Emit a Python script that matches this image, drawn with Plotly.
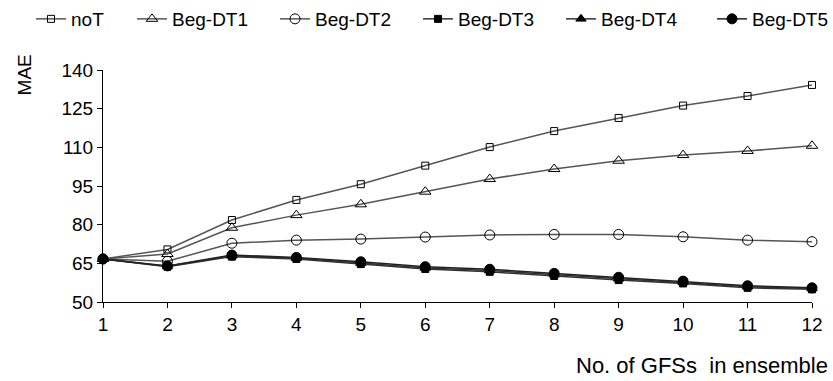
import plotly.graph_objects as go

x = list(range(1, 13))
noT   = [66.7, 70.4, 81.8, 89.6, 95.7, 102.9, 110.1, 116.3, 121.4, 126.2, 129.9, 134.2]
dt1   = [66.7, 68.6, 78.8, 83.7, 87.9, 92.8, 97.7, 101.6, 104.8, 107.0, 108.6, 110.6]
dt2   = [66.7, 65.8, 72.8, 74.0, 74.4, 75.2, 76.0, 76.2, 76.2, 75.3, 74.0, 73.4]
dt3   = [66.7, 63.7, 67.6, 66.7, 64.7, 62.8, 61.7, 60.1, 58.5, 57.2, 55.5, 54.9]
dt4   = [66.7, 63.9, 67.9, 67.0, 65.1, 63.2, 62.2, 60.6, 59.0, 57.6, 55.9, 55.2]
dt5   = [66.7, 64.0, 68.2, 67.3, 65.6, 63.7, 62.7, 61.1, 59.6, 58.1, 56.3, 55.5]
names = ["noT", "Beg-DT1", "Beg-DT2", "Beg-DT3", "Beg-DT4", "Beg-DT5"]
series = [noT, dt1, dt2, dt3, dt4, dt5]
symbols = ["square-open", "triangle-up-open", "circle-open", "square", "triangle-up", "circle"]
sizes = [7, 10, 10, 7, 9, 10]
linecolors = ["#555555", "#555555", "#555555", "#333333", "#333333", "#222222"]
legends = ["legend", "legend2", "legend2", "legend2", "legend2", "legend3"]

fig = go.Figure()
for n, s, sym, sz, lc, lg in zip(names, series, symbols, sizes, linecolors, legends):
    fig.add_trace(go.Scatter(
        x=x, y=s, name=n, mode="lines+markers", legend=lg,
        line=dict(color=lc, width=1.5),
        marker=dict(symbol=sym, size=sz, color="black",
                    line=dict(color="black", width=1)),
        cliponaxis=False,
    ))

fig.update_layout(
    width=833, height=381,
    margin=dict(l=103, r=21, t=70, b=79, autoexpand=False),
    plot_bgcolor="white", paper_bgcolor="white",
    font=dict(family="Liberation Sans, Arial, sans-serif", size=19, color="black"),
    showlegend=True,
    legend=dict(orientation="h", xref="container", yref="container",
                x=31 / 833, y=1.0, xanchor="left", yanchor="top",
                font=dict(size=19), bgcolor="rgba(0,0,0,0)"),
    legend2=dict(orientation="h", xref="container", yref="container",
                 x=132 / 833, y=1.0, xanchor="left", yanchor="top",
                 font=dict(size=19), entrywidth=98, entrywidthmode="pixels",
                 bgcolor="rgba(0,0,0,0)"),
    legend3=dict(orientation="h", xref="container", yref="container",
                 x=712 / 833, y=1.0, xanchor="left", yanchor="top",
                 font=dict(size=19), bgcolor="rgba(0,0,0,0)"),
    xaxis=dict(range=[1, 12], tickmode="array", tickvals=x,
               showline=True, linecolor="black", linewidth=1,
               ticks="outside", ticklen=5, tickcolor="black",
               showgrid=False, zeroline=False, tickfont=dict(size=19)),
    yaxis=dict(range=[50, 140], tickmode="array",
               tickvals=[50, 65, 80, 95, 110, 125, 140],
               showline=True, linecolor="black", linewidth=1,
               ticks="outside", ticklen=5, tickcolor="black",
               showgrid=False, zeroline=False, tickfont=dict(size=19)),
    annotations=[
        dict(text="MAE", xref="paper", yref="paper", x=-0.111, y=0.978,
             xanchor="center", yanchor="middle", textangle=-90, showarrow=False,
             font=dict(size=19)),
        dict(text="No. of GFSs&nbsp; in ensemble", xref="paper", yref="paper",
             x=1.0254, y=-0.2716, xanchor="right", yanchor="middle", showarrow=False,
             font=dict(size=22)),
    ],
)
fig.write_html("out.html")
